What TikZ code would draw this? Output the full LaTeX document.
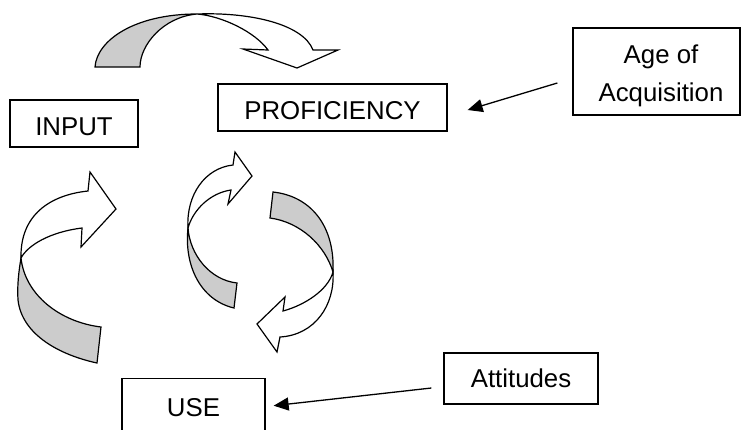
\documentclass[tikz,border=0pt]{standalone}
\usepackage{fontspec}
\setmainfont{Liberation Sans}
\usetikzlibrary{arrows.meta}
\definecolor{bandgrey}{gray}{0.8}
\begin{document}
\begin{tikzpicture}[x=1pt,y=-1pt,
  box/.style={draw, line width=1.3pt, inner sep=0pt, font=\fontsize{25.8}{31}\selectfont, text depth=0pt},
  conn/.style={line width=1.3pt, -{Triangle[length=15pt,width=13pt]}},
  band/.style={draw, line width=1.2pt, line join=miter},
  back/.style={band, fill=bandgrey},
  front/.style={band, fill=white}]
\useasboundingbox (0,0) rectangle (742,429);
\fill[white] (0,0) rectangle (742,429);

% boxes
\node[box, minimum width=128pt, minimum height=47pt, text height=24.7pt] (input) at (74,123.5) {INPUT};
\node[box, minimum width=229pt, minimum height=47pt, text height=24.9pt] (prof) at (332.5,107.5) {PROFICIENCY};
\node[box, minimum width=167pt, minimum height=87pt] (age) at (656.5,71.5) {};
\node[font=\fontsize{25.8}{38.4}\selectfont, align=center, inner sep=0pt] (agetext) at (661,75.8) {Age of\\Acquisition};
\node[box, minimum width=143pt, minimum height=62pt, text height=18.3pt, text depth=5pt] (use) at (193.5,409.5) {USE};
\node[box, minimum width=154pt, minimum height=51pt, text height=18.9pt] (att) at (521,378.5) {Attitudes};

% connectors
\draw[conn] ([xshift=-15pt,yshift=-11.5pt]age.west) -- ([xshift=20pt,yshift=-2.5pt]prof.east);
\draw[conn] ([xshift=-12pt,yshift=-9.5pt]att.west) -- ([xshift=8pt,yshift=3.8pt]use.east);

% top curved arrow
\draw[back] (95,67) .. controls (97,40) and (135,14) .. (197,14) .. controls (163,17) and (140,45) .. (140,67) -- cycle;
\draw[front] (197,14) .. controls (222,16) and (255,32) .. (268,50) -- (243,49) -- (297,68) -- (338,50) -- (313,50) .. controls (303,24) and (250,12) .. (197,14) -- cycle;

% left curved arrow
\draw[back] (97,363) .. controls (60,355) and (22,335) .. (18,300) .. controls (17,285) and (19,270) .. (21,258) .. controls (25,295) and (60,322) .. (101,327) -- cycle;
\draw[front] (21,258) .. controls (20,215) and (50,195) .. (88,191) -- (90,172) -- (116,209) -- (81,247) -- (82,228) .. controls (50,232) and (28,245) .. (21,258) -- cycle;

% middle-left curved arrow
\draw[back] (234,308) .. controls (200,300) and (184,265) .. (188,228) .. controls (190,255) and (210,280) .. (237,283) -- cycle;
\draw[front] (188,228) .. controls (186,195) and (205,168) .. (233,165) -- (235,152) -- (252,176) -- (228,204) -- (231,190) .. controls (210,193) and (193,210) .. (188,228) -- cycle;

% middle-right curved arrow
\draw[back] (273,192) .. controls (310,196) and (335,225) .. (333,272) .. controls (325,245) and (300,222) .. (270,218) -- cycle;
\draw[front] (333,272) .. controls (335,305) and (315,335) .. (280,337) -- (277,352) -- (257,324) -- (285,297) -- (283,311) .. controls (305,305) and (328,290) .. (333,272) -- cycle;
\end{tikzpicture}
\end{document}
